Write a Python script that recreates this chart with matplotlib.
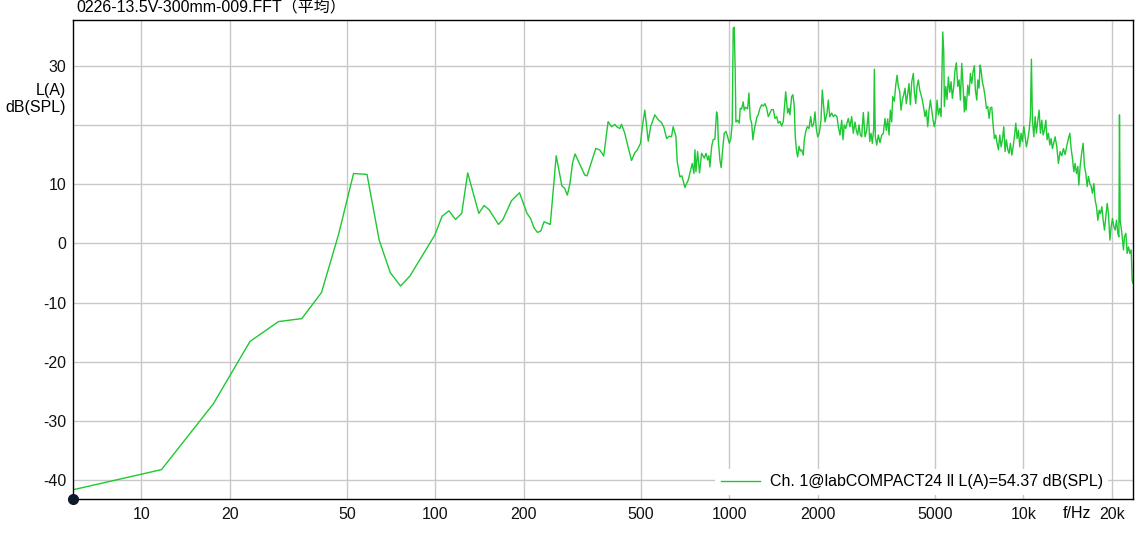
import matplotlib.pyplot as plt
from matplotlib.ticker import NullLocator

plt.rcParams['font.family'] = ['Liberation Sans', 'Noto Sans CJK JP']

title = '0226-13.5V-300mm-009.FFT（平均）'
legend_label = 'Ch. 1@labCOMPACT24 ll L(A)=54.37 dB(SPL)'

# low band: single FFT bins (5.86 Hz resolution)
freq_low = [5.86, 11.72, 17.58, 23.44, 29.30, 35.16, 41.02, 46.88, 52.73, 58.59,
            64.45, 70.31, 76.17, 82.03, 99.61, 105.5, 111.3, 117.2, 123.0, 128.9,
            140.6, 146.5, 152.3, 164.1, 169.9, 181.6, 193.4, 205.1, 210.9, 216.8,
            222.7, 228.5, 234.4, 246.1, 257.8, 269.5, 275.4, 281.2, 287.1, 293.0,
            298.8, 322.3, 328.1, 351.6]
level_low = [-41.6, -38.2, -27.1, -16.55, -13.2, -12.7, -8.3, 1.5, 11.8, 11.65,
             0.55, -4.95, -7.2, -5.5, 1.4, 4.6, 5.5, 4.05, 5.07, 11.9,
             5.07, 6.4, 5.7, 3.2, 4.05, 7.2, 8.55, 5.07, 4.2, 2.6,
             1.85, 2.1, 3.65, 3.2, 14.8, 9.7, 9.3, 8.15, 10.1, 13.6,
             15.1, 11.55, 11.4, 16.05]

# mid band
freq_mid = [363, 374, 387, 398, 408, 414, 424, 430, 441, 451, 465, 477, 486, 499,
            505, 516, 530, 540, 558, 573, 588, 599, 612, 624, 636, 644, 658, 665,
            679, 690, 706, 725, 748, 758, 764, 770, 780, 792, 805, 822, 833, 844,
            852, 859, 871, 881, 893, 905, 912, 917, 929, 938, 949, 961, 974, 987,
            1000, 1012, 1023, 1031, 1039, 1047, 1053, 1067, 1081, 1089, 1101, 1115,
            1124, 1136, 1154, 1166, 1178, 1191, 1203, 1215, 1229, 1242, 1254, 1271,
            1288, 1305, 1322, 1340, 1357, 1375, 1393, 1411, 1430, 1449, 1467, 1487,
            1507, 1526, 1555, 1579, 1595, 1608, 1629, 1646, 1663, 1676, 1694, 1708,
            1726, 1743, 1762, 1785, 1799, 1819, 1841, 1866, 1891, 1911, 1936, 1956,
            1976, 1998, 2023, 2050, 2071, 2094, 2115, 2149, 2171, 2195, 2229, 2258,
            2288, 2324, 2348, 2379, 2411, 2436, 2460, 2488, 2513, 2539, 2573, 2607,
            2640, 2676, 2703, 2733, 2761, 2790, 2820, 2856, 2894, 2933, 2970, 3003,
            3033, 3064, 3098, 3113, 3137, 3172, 3212, 3255]
level_mid = [15.75, 14.75, 20.55, 19.7, 20.1, 19.7, 19.4, 20.1, 18.6, 16.6, 14.0, 15.3, 15.75, 16.9,
             19.4, 22.5, 17.25, 19.7, 21.7, 20.9, 20.4, 19.6, 17.7, 18.1, 18.0, 19.7, 18.1, 13.8,
             11.25, 11.4, 9.45, 10.7, 13.5, 11.8, 15.8, 12.1, 15.5, 11.9, 15.2, 14.4, 15.2, 14.1,
             14.8, 12.9, 16.4, 17.5, 17.6, 22.2, 21.4, 17.5, 14.1, 12.8, 15.8, 18.6, 18.9, 18.0,
             16.9, 17.7, 20.3, 36.3, 36.5, 29.3, 20.5, 20.8, 20.3, 22.8, 22.7, 23.9,
             22.5, 23.0, 22.7, 25.4, 21.1, 20.3, 17.5, 19.1, 20.3, 21.4, 21.7, 22.8,
             23.4, 23.2, 23.6, 22.8, 21.4, 22.0, 22.6, 22.6, 21.1, 21.4, 20.3, 20.6,
             19.8, 20.6, 25.6, 22.0, 22.8, 21.7, 24.8, 25.1, 23.1, 18.0, 15.5, 14.6,
             16.4, 15.6, 15.8, 14.9, 17.5, 18.9, 19.7, 19.4, 21.4, 19.7, 20.2, 22.2,
             19.4, 18.0, 18.6, 20.8, 25.9, 23.1, 20.5, 22.0, 24.2, 21.4, 22.0, 21.4,
             21.7, 21.4, 19.7, 18.3, 20.8, 17.5, 20.0, 19.4, 20.3, 21.1, 19.7, 21.4,
             18.6, 20.5, 19.1, 18.3, 20.0, 18.3, 18.0, 22.1, 18.0, 19.1, 22.2, 17.2,
             18.6, 16.9, 19.4, 29.4, 18.0, 16.6, 18.3, 17.0]

# high band
freq_high = [3299, 3340, 3385, 3419, 3457, 3493, 3529, 3567, 3595, 3641, 3681, 3719,
             3757, 3798, 3837, 3876, 3919, 3959, 3999, 4044, 4085, 4127, 4173, 4225,
             4258, 4305, 4349, 4394, 4442, 4488, 4534, 4584, 4630, 4679, 4730, 4779,
             4828, 4880, 4931, 4981, 5037, 5088, 5140, 5197, 5250, 5320, 5362, 5387,
             5447, 5502, 5559, 5620, 5678, 5735, 5799, 5858, 5919, 5984, 6046, 6108,
             6174, 6237, 6301, 6336, 6386, 6471, 6537, 6604, 6677, 6745, 6814, 6868,
             6944, 6998, 7070, 7125, 7181, 7255, 7335, 7410, 7487, 7569, 7648, 7725,
             7810, 7891, 7971, 8058, 8142, 8225, 8314, 8401, 8487, 8581, 8668, 8757,
             8854, 8944, 9035, 9136, 9229, 9323, 9426, 9522, 9622, 9726, 9824, 9927,
             10035, 10139, 10242, 10354, 10462, 10568, 10652, 10736, 10855, 10965,
             11077, 11200, 11314, 11429, 11556, 11673, 11795, 11923, 12045, 12170,
             12303, 12428, 12558, 12694, 12823, 12996, 13161, 13335, 13514, 13686,
             13871, 14057, 14233, 14391, 14538, 14686, 14849, 15000, 15156, 15321,
             15441, 15599, 15809, 15973, 16136, 16312, 16482, 16650, 16835, 17006,
             17179, 17370, 17547, 17725, 17922, 18105, 18293, 18493, 18686, 18876,
             19085, 19280, 19476, 19692, 19892, 20095, 20318, 20525, 20739, 20965,
             21130, 21228, 21345, 21632, 21903, 22075, 22320, 22547, 22782, 23030,
             23264, 23447, 23577]
level_high = [18.3, 18.6, 21.1, 19.1, 21.0, 18.3, 22.5, 20.5, 24.8, 24.0, 26.7, 28.4,
              26.5, 25.6, 22.5, 24.2, 25.1, 26.2, 23.6, 25.3, 27.0, 23.4, 27.3, 28.7,
              25.7, 23.6, 26.5, 27.6, 25.9, 25.1, 24.2, 22.8, 21.4, 22.5, 19.7, 22.5,
              24.2, 22.5, 20.8, 19.7, 21.1, 24.2, 21.7, 22.8, 21.4, 35.7, 32.4, 23.1,
              26.5, 24.3, 28.1, 25.5, 27.3, 24.5, 26.5, 29.3, 30.5, 26.5, 27.6, 24.2,
              30.4, 26.5, 22.2, 24.8, 22.5, 26.7, 25.0, 28.7, 27.0, 29.0, 30.0, 25.9,
              24.2, 27.6, 26.2, 30.1, 29.3, 27.3, 26.2, 24.8, 22.8, 23.1, 21.1, 22.9,
              23.0, 20.0, 17.7, 18.3, 16.9, 15.8, 18.3, 16.3, 17.5, 19.7, 15.5, 17.5,
              15.8, 15.2, 16.9, 14.9, 16.3, 18.0, 20.3, 17.7, 19.1, 16.3, 18.6, 17.2,
              19.8, 18.0, 16.3, 17.5, 19.1, 21.4, 31.1, 20.8, 18.0, 21.4,
              18.6, 20.8, 22.5, 18.6, 20.8, 18.3, 19.1, 20.8, 17.5, 18.6,
              16.6, 17.7, 16.0, 17.0, 18.0, 16.3, 13.5, 15.5, 14.8, 16.0,
              15.0, 16.5, 17.7, 18.6, 16.0, 14.4, 12.1, 13.5, 11.8, 13.0,
              9.85, 13.0, 15.5, 16.9, 13.0, 11.8, 9.6, 11.3, 10.1, 9.6,
              8.45, 10.1, 7.3, 6.2, 3.9, 5.6, 5.0, 6.2, 3.9, 2.25,
              4.5, 6.75, 5.0, 0.55, 2.8, 4.2, 2.8, 2.25, 3.9, 1.6,
              1.1, 21.7, 3.9, 1.7, -1.1, 1.1, 1.7, -1.7, -0.6, -1.7,
              -1.1, -6.2, -6.75]

freq = freq_low + freq_mid + freq_high
level = level_low + level_mid + level_high

xticks = [10, 20, 50, 100, 200, 500, 1000, 2000, 5000, 10000, 20000]
xlabels = ['10', '20', '50', '100', '200', '500', '1000', '2000', '5000', '10k', '20k']
yticks = [-40, -30, -20, -10, 0, 10, 20, 30]
ylabels = ['-40', '-30', '-20', '-10', '0', '10', '', '30']

fs = 11.5

fig = plt.figure(figsize=(11.35, 5.33), dpi=100)
ax = fig.add_axes([73 / 1135, 1 - 499 / 533, 1060 / 1135, 479 / 533])

ax.plot(freq, level, color='#1ec832', lw=1.0, label=legend_label)
ax.set_xscale('log')
ax.set_xlim(5.86, 23600)
ax.set_ylim(-43.16, 37.72)
ax.set_xticks(xticks)
ax.set_xticklabels(xlabels)
ax.xaxis.set_minor_locator(NullLocator())
ax.set_yticks(yticks)
ax.set_yticklabels(ylabels)
ax.tick_params(length=0, labelsize=fs, colors='#111111')
ax.tick_params(axis='x', pad=6)
ax.tick_params(axis='y', pad=5)
ax.grid(True, color='#c8c8c8', lw=1.0)
ax.set_axisbelow(True)
for s in ax.spines.values():
    s.set_color('black')
    s.set_linewidth(1.0)

# dot at the origin corner
ax.plot([0], [0], 'o', transform=ax.transAxes, color='#0d1a2a', ms=7,
        clip_on=False, zorder=5)

leg = ax.legend(loc='center left', bbox_to_anchor=(0.6057, 0.0355),
                borderaxespad=0, borderpad=0.35, handlelength=2.44,
                handletextpad=0.62, fontsize=fs, frameon=True,
                fancybox=False, framealpha=1)
leg.get_frame().set_edgecolor('none')
leg.get_frame().set_facecolor('white')

fig.text(76 / 1135, 1 - 8 / 533, title, ha='left', va='center', fontsize=fs)
fig.text(66 / 1135, 1 - 99 / 533, 'L(A)\ndB(SPL)', ha='right', va='center',
         fontsize=fs, linespacing=1.2, multialignment='right')
fig.text(1077 / 1135, 1 - 514 / 533, 'f/Hz', ha='center', va='center', fontsize=fs)

fig.savefig('out.png', dpi=100)
